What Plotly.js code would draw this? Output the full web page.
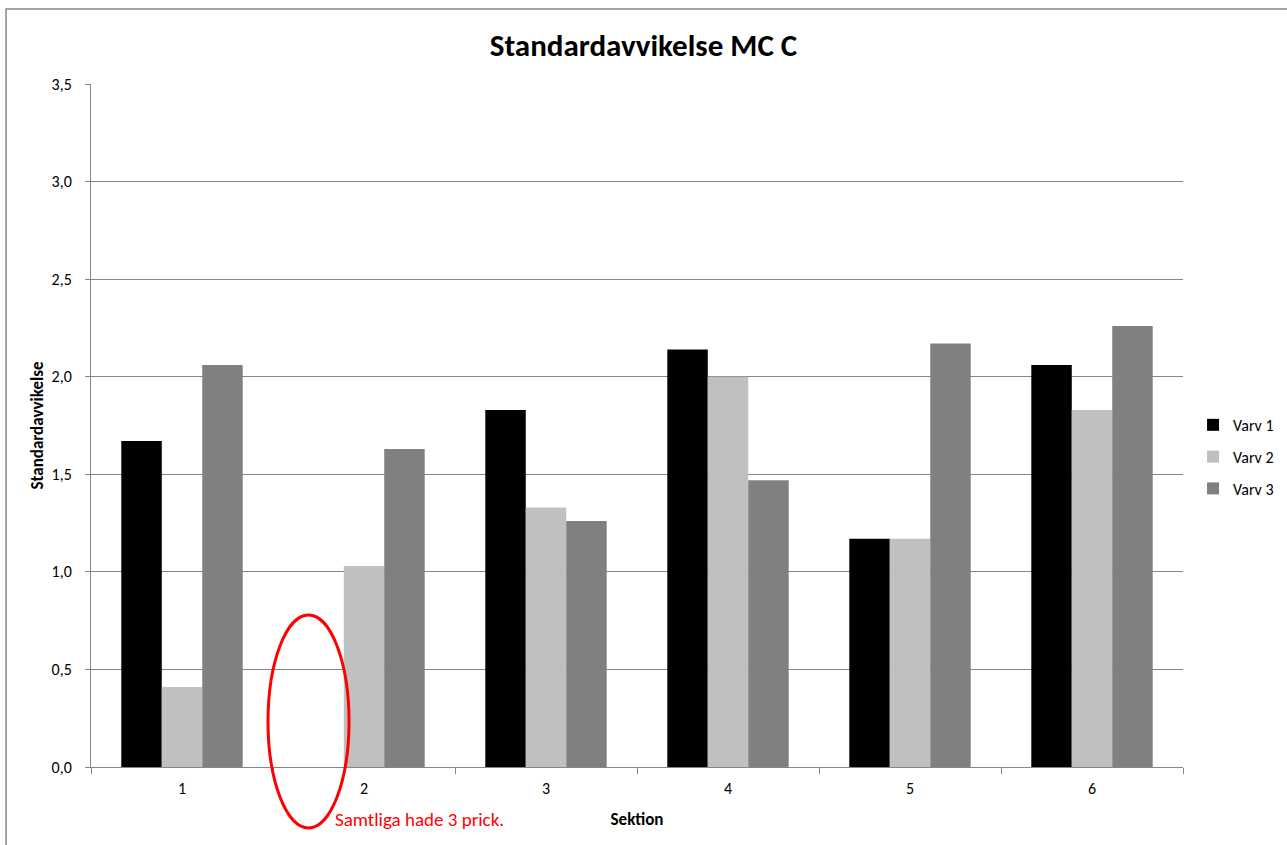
<!DOCTYPE html>
<html>
<head>
<meta charset="utf-8">
<script src="https://cdn.plot.ly/plotly-3.0.1.min.js"></script>
<style>
html,body{margin:0;padding:0;background:#fff;}
#chart{width:1287px;height:845px;}
</style>
</head>
<body>
<div id="chart"></div>
<script>
const sections = ["1", "2", "3", "4", "5", "6"];
const seriesNames = ["Varv 1", "Varv 2", "Varv 3"];
const varv1 = [1.67, null, 1.83, 2.14, 1.17, 2.06];
const varv2 = [0.41, 1.03, 1.33, 2.00, 1.17, 1.83];
const varv3 = [2.06, 1.63, 1.26, 1.47, 2.17, 2.26];
const colors = ["#000000", "#c0c0c0", "#808080"];
const noteText = "Samtliga hade 3 prick.";

const FONT = "Carlito, 'Liberation Sans', Arial, sans-serif";
const values = [varv1, varv2, varv3];
const traces = values.map((v, i) => ({
  type: "bar",
  name: seriesNames[i],
  x: sections,
  y: v,
  legendgroup: "g" + i,
  marker: {color: colors[i], line: {width: 0}},
  hoverinfo: "x+y+name"
}));

const layout = {
  width: 1287, height: 845,
  margin: {l: 91, r: 104, t: 84, b: 78, autoexpand: false},
  paper_bgcolor: "#ffffff",
  plot_bgcolor: "#ffffff",
  separators: ", ",
  barmode: "group",
  bargap: 0.333,
  bargroupgap: 0,
  font: {family: FONT, size: 17, color: "#000"},
  title: {
    text: "<b>Standardavvikelse MC C</b>",
    font: {family: FONT, size: 31, color: "#000"},
    x: 0.5, xanchor: "center", y: 0.947, yanchor: "middle"
  },
  xaxis: {
    type: "category",
    tickson: "boundaries",
    ticks: "outside", ticklen: 6, tickcolor: "#868686", tickwidth: 1,
    ticklabelstandoff: 7,
    showline: true, linecolor: "#868686", linewidth: 1,
    showgrid: false,
    tickfont: {family: FONT, size: 16, color: "#000"},
    title: {text: "<b>Sektion</b>", font: {family: FONT, size: 17, color: "#000"}, standoff: 15}
  },
  yaxis: {
    range: [0, 3.5],
    dtick: 0.5, tick0: 0,
    tickformat: ".1f",
    ticks: "outside", ticklen: 5, tickcolor: "#868686", tickwidth: 1,
    ticklabelstandoff: 10,
    showline: true, linecolor: "#868686", linewidth: 1,
    showgrid: true, gridcolor: "#868686", gridwidth: 1,
    zeroline: false,
    tickfont: {family: FONT, size: 16, color: "#000"},
    title: {text: "<b>Standardavvikelse</b>", font: {family: FONT, size: 17, color: "#000"}, standoff: 3}
  },
  legend: {
    x: 1.0092, xanchor: "left",
    y: 0.454, yanchor: "middle",
    font: {family: FONT, size: 16, color: "#000"},
    tracegroupgap: 8,
    itemwidth: 30,
    bgcolor: "rgba(0,0,0,0)"
  },
  shapes: [
    {type: "rect", xref: "paper", yref: "paper",
     x0: -0.0778, x1: 1.2, y0: -0.3, y1: 1.1098,
     line: {color: "#868686", width: 1.5}, fillcolor: "rgba(0,0,0,0)", layer: "below"},
    {type: "circle", xref: "paper", yref: "paper",
     x0: 0.1621, x1: 0.2363, y0: -0.0893, y1: 0.2225,
     line: {color: "#ff0000", width: 3}, fillcolor: "rgba(0,0,0,0)"}
  ],
  annotations: [
    {text: noteText, xref: "paper", yref: "paper", x: 0.2216, xanchor: "left",
     y: -0.077, yanchor: "middle", showarrow: false,
     font: {family: FONT, size: 19, color: "#ff0000"}}
  ]
};

Plotly.newPlot("chart", traces, layout, {displayModeBar: false, staticPlot: true});
</script>
</body>
</html>
